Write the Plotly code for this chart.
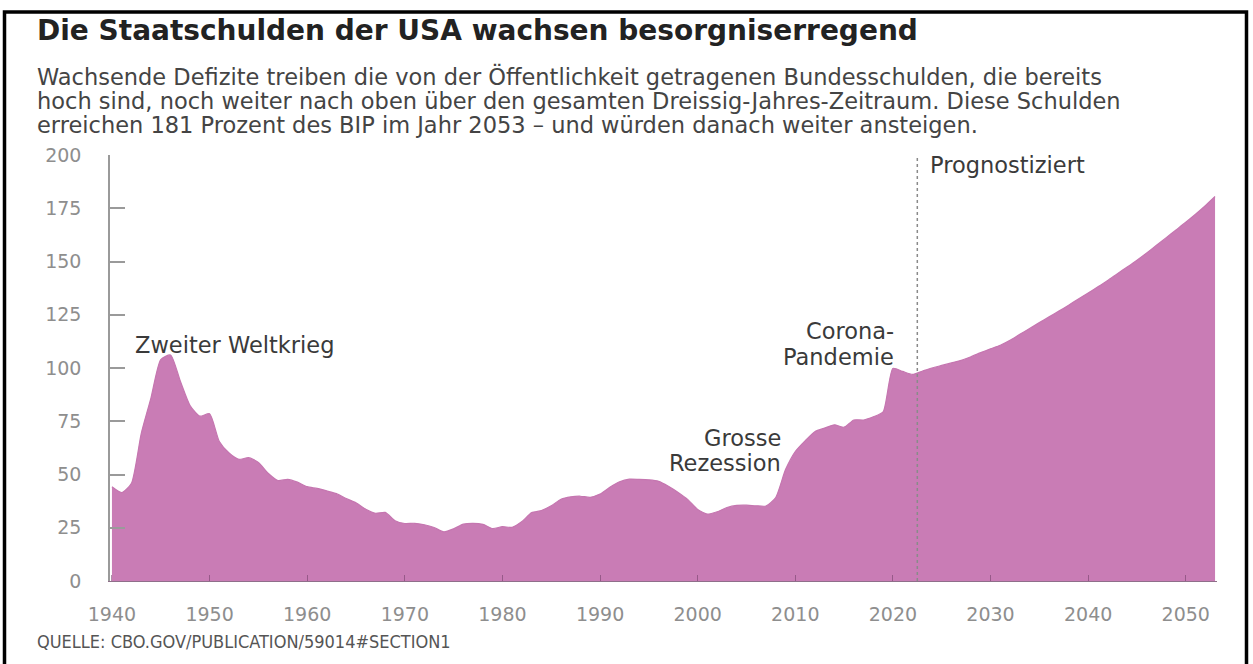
import plotly.graph_objects as go

# ---------------- data ----------------
hist_years = list(range(1940, 2023))
hist_values = [
    44.2, 41.5, 45.9, 69.2, 86.0, 103.9, 106.1, 93.9, 82.4, 77.4,   # 1940-1949
    78.5, 65.5, 60.1, 57.1, 57.9, 55.7, 50.6, 47.2, 47.7, 46.4,     # 1950-1959
    44.3, 43.5, 42.3, 41.0, 38.7, 36.7, 33.7, 31.8, 32.2, 28.3,     # 1960-1969
    27.0, 27.1, 26.4, 25.1, 23.1, 24.5, 26.7, 27.1, 26.6, 24.6,     # 1970-1979
    25.5, 25.2, 27.9, 32.1, 33.1, 35.3, 38.4, 39.5, 39.8, 39.3,     # 1980-1989
    40.8, 44.0, 46.6, 47.8, 47.7, 47.5, 46.8, 44.5, 41.6, 38.2,     # 1990-1999
    33.6, 31.4, 32.5, 34.5, 35.5, 35.6, 35.3, 35.2, 39.2, 52.3,     # 2000-2009
    60.8, 65.8, 70.1, 71.8, 73.3, 72.2, 75.6, 75.6, 77.1, 79.4,     # 2010-2019
    99.8, 98.4, 97.0,                                               # 2020-2022
]
proj_years = list(range(2023, 2054))
proj_values = [
    98.5, 100.0, 101.2, 102.4, 103.6, 105.3, 107.2, 109.0, 110.7, 113.0,  # 2023-2032
    115.8, 118.5, 121.3, 124.0, 126.7, 129.5, 132.4, 135.2, 138.1, 141.1,  # 2033-2042
    144.3, 147.4, 150.6, 154.0, 157.6, 161.2, 164.8, 168.4, 172.2, 176.2,  # 2043-2052
    180.5,                                                                  # 2053
]
years = hist_years + proj_years
values = hist_values + proj_values

projection_start = 2022.5
y_ticks = [0, 25, 50, 75, 100, 125, 150, 175, 200]
x_ticks = [1940, 1950, 1960, 1970, 1980, 1990, 2000, 2010, 2020, 2030, 2040, 2050]

title = "Die Staatschulden der USA wachsen besorgniserregend"
subtitle_lines = [
    "Wachsende Defizite treiben die von der Öffentlichkeit getragenen Bundesschulden, die bereits",
    "hoch sind, noch weiter nach oben über den gesamten Dreissig-Jahres-Zeitraum. Diese Schulden",
    "erreichen 181 Prozent des BIP im Jahr 2053 – und würden danach weiter ansteigen.",
]
source = "QUELLE: CBO.GOV/PUBLICATION/59014#SECTION1"

# ---------------- layout geometry ----------------
W, H = 1253, 664
L, R, T, B = 110, 36, 155, 83
PW, PH = W - L - R, H - T - B


def px(xp):
    return (xp - L) / PW


def py(yp):
    return (H - B - yp) / PH


FONT = "DejaVu Sans, Verdana, Arial, sans-serif"
FILL = "#C97CB5"

fig = go.Figure()
fig.add_trace(go.Scatter(
    x=years, y=values, mode="lines", fill="tozeroy",
    line=dict(color="#C576B0", width=1.2, shape="spline", smoothing=0.6),
    fillcolor=FILL, hoverinfo="skip", showlegend=False,
))

annotations = []
annotations.append(dict(text="<b>" + title + "</b>", x=px(35), y=py(30),
                        xref="paper", yref="paper", xanchor="left", yanchor="middle",
                        showarrow=False, font=dict(family=FONT, size=28, color="#222222")))
for i, line in enumerate(subtitle_lines):
    annotations.append(dict(text=line, x=px(35), y=py(76 + 24.5 * i),
                            xref="paper", yref="paper", xanchor="left", yanchor="middle",
                            showarrow=False, font=dict(family=FONT, size=22.5, color="#444444")))
annotations.append(dict(text=source, x=px(35), y=py(641), xref="paper", yref="paper",
                        xanchor="left", yanchor="middle", showarrow=False,
                        font=dict(family="DejaVu Sans Condensed, Liberation Sans Narrow, DejaVu Sans",
                                  size=18, color="#555555")))

lab_font = dict(family=FONT, size=22.5, color="#3a3a3a")
for text, xp, yp, anchor in [
    ("Zweiter Weltkrieg", 133, 345, "left"),
    ("Corona-", 896, 331, "right"),
    ("Pandemie", 896, 357, "right"),
    ("Grosse", 783, 438, "right"),
    ("Rezession", 783, 463, "right"),
    ("Prognostiziert", 928, 165, "left"),
]:
    annotations.append(dict(text=text, x=px(xp), y=py(yp), xref="paper", yref="paper",
                            xanchor=anchor, yanchor="middle", showarrow=False, font=lab_font))

shapes = [
    dict(type="line", xref="x", yref="y", x0=projection_start, x1=projection_start,
         y0=0, y1=200, line=dict(color="#8a8a8a", width=1.5, dash="dot")),
    dict(type="rect", xref="paper", yref="paper", x0=px(4.5), x1=px(1246.5),
         y0=py(680), y1=py(12), line=dict(color="#000000", width=3.5),
         fillcolor="rgba(0,0,0,0)"),
]

tick_font = dict(family=FONT, size=19, color="#8e8e8e")

fig.update_layout(
    width=W, height=H,
    margin=dict(l=L, r=R, t=T, b=B, pad=0),
    paper_bgcolor="white", plot_bgcolor="white",
    annotations=annotations, shapes=shapes,
    showlegend=False,
    xaxis=dict(range=[1939.8, 2053.2], tickvals=x_ticks, ticktext=[str(v) for v in x_ticks],
               ticks="inside", ticklen=6, tickwidth=1.2, tickcolor="rgba(110,60,100,0.55)",
               showline=True, linecolor="#8f6f8a", linewidth=1.2,
               showgrid=False, zeroline=False, tickfont=tick_font,
               ticklabelstandoff=16, fixedrange=True),
    yaxis=dict(range=[0, 200], tickvals=y_ticks, ticktext=[str(v) for v in y_ticks],
               ticks="inside", ticklen=15, tickwidth=1.5, tickcolor="#9a9a9a",
               showline=True, linecolor="#9a9a9a", linewidth=1.5,
               showgrid=False, zeroline=False, tickfont=tick_font,
               ticklabelstandoff=23, fixedrange=True),
)

fig.write_html("out.html", config={"displayModeBar": False})
